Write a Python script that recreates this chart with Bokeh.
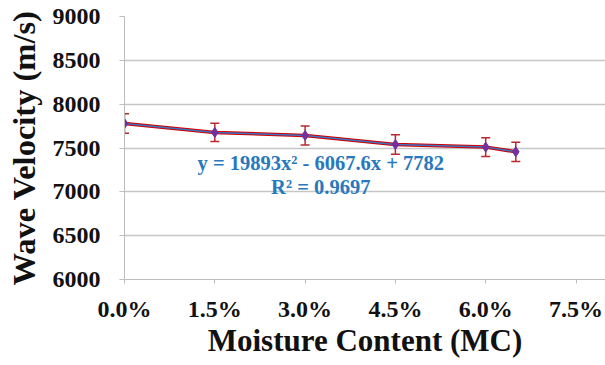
from bokeh.plotting import figure
from bokeh.models import ColumnDataSource, Whisker, TeeHead, Label, NumeralTickFormatter, FixedTicker, Range1d
from bokeh.embed import file_html
from bokeh.resources import INLINE

moisture = [0.0, 0.015, 0.030, 0.045, 0.060, 0.065]
velocity = [7780, 7678, 7643, 7540, 7510, 7457]
err = [112, 105, 108, 110, 108, 110]
x_ticks = [0.0, 0.015, 0.030, 0.045, 0.060, 0.075]
y_ticks = [6000, 6500, 7000, 7500, 8000, 8500, 9000]
eq_text = "y = 19893x² - 6067.6x + 7782"
r2_text = "R² = 0.9697"

FONT = "Liberation Serif"

src = ColumnDataSource(dict(
    x=moisture, y=velocity,
    lower=[v - e for v, e in zip(velocity, err)],
    upper=[v + e for v, e in zip(velocity, err)],
))

p = figure(width=605, height=365, output_backend="svg", toolbar_location=None,
           x_range=Range1d(0, 0.0799), y_range=Range1d(6000, 9000),
           min_border_left=124, min_border_right=0, min_border_top=16, min_border_bottom=86)
p.outline_line_color = None
p.background_fill_color = "white"
p.border_fill_color = "white"

p.xgrid.grid_line_color = None
p.ygrid.grid_line_color = "#c6c6c6"
p.ygrid.grid_line_width = 1.5

for ax in (p.xaxis[0], p.yaxis[0]):
    ax.axis_line_color = "#bdbdbd"
    ax.major_tick_line_color = "#bdbdbd"
    ax.minor_tick_line_color = None
    ax.major_tick_in = 0
    ax.major_tick_out = 5
    ax.major_label_text_font = FONT
    ax.major_label_text_font_style = "bold"
    ax.major_label_text_font_size = "24px"
    ax.major_label_text_color = "#111111"
    ax.axis_label_text_font = FONT
    ax.axis_label_text_font_style = "bold"
    ax.axis_label_text_color = "#111111"

p.xaxis.ticker = FixedTicker(ticks=x_ticks)
p.xaxis.formatter = NumeralTickFormatter(format="0.0%")
p.xaxis.major_tick_out = 4
p.xaxis.major_label_standoff = 12
p.xaxis.axis_label = "Moisture Content (MC)"
p.xaxis.axis_label_standoff = -2
p.xaxis.axis_label_text_font_size = "31px"

p.yaxis.ticker = FixedTicker(ticks=y_ticks)
p.yaxis.major_label_standoff = 19
p.yaxis.axis_label = "Wave Velocity (m/s)"
p.yaxis.axis_label_standoff = 8
p.yaxis.axis_label_text_font_size = "32.5px"

p.line("x", "y", source=src, line_color="#d00000", line_width=3.5)
p.line("x", "y", source=src, line_color="#3f72c0", line_width=1.5)

w = Whisker(base="x", lower="lower", upper="upper", source=src,
            line_color="#b8282e", line_width=1.5,
            upper_head=TeeHead(size=9, line_color="#b8282e", line_width=1.5),
            lower_head=TeeHead(size=9, line_color="#b8282e", line_width=1.5))
p.add_layout(w)

p.scatter("x", "y", source=src, marker="diamond", size=10,
          fill_color="#7030a0", line_color="#7030a0")

for txt, yv in ((eq_text, 7330), (r2_text, 7055)):
    p.add_layout(Label(x=0.0326, y=yv, text=txt, text_align="center", text_baseline="middle",
                       text_font=FONT, text_font_style="bold", text_font_size="20.5px",
                       text_color="#2878be"))

open("out.html", "w").write(file_html(p, INLINE))
